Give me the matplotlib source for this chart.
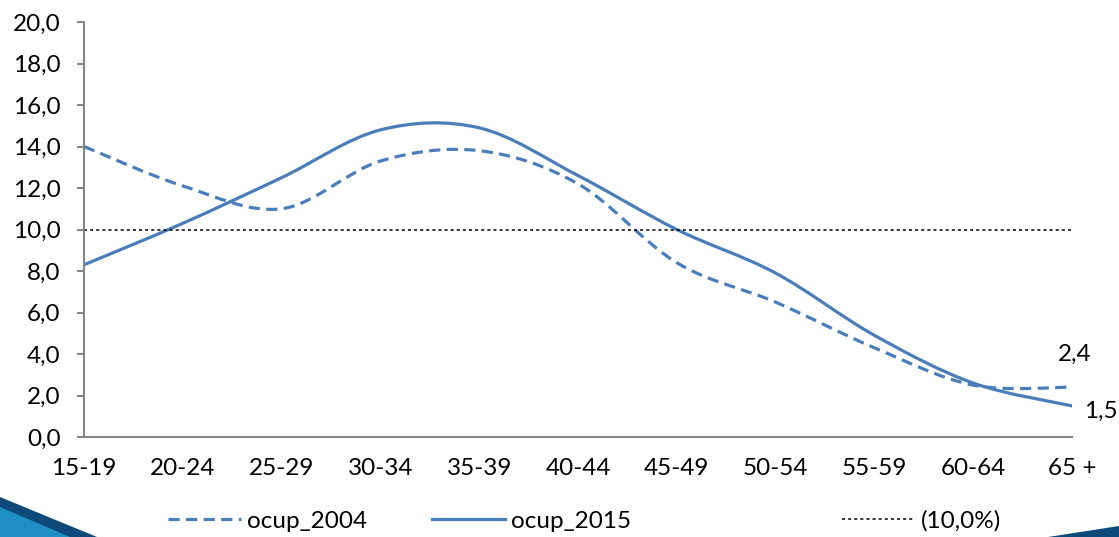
import matplotlib
matplotlib.use("Agg")
import matplotlib.pyplot as plt
from matplotlib.path import Path
from matplotlib.patches import PathPatch, Polygon
from matplotlib.lines import Line2D
from matplotlib.ticker import FuncFormatter

plt.rcParams['font.family'] = ['Lato', 'DejaVu Sans']

# age groups and shares (%)
categories = ["15-19", "20-24", "25-29", "30-34", "35-39", "40-44",
              "45-49", "50-54", "55-59", "60-64", "65 +"]
ocup_2004 = [14.0, 12.1, 11.0, 13.3, 13.8, 12.2, 8.4, 6.5, 4.3, 2.5, 2.4]
ocup_2015 = [8.3, 10.3, 12.5, 14.8, 14.9, 12.6, 10.0, 7.9, 4.9, 2.6, 1.5]
threshold = 10.0

blue = "#4a7ebb"
fs = 17.5


def smooth_path(xs, ys):
    # Excel-like smoothed line: bezier segments with catmull-rom control points
    pts = list(zip(xs, ys))
    n = len(pts)
    verts = [pts[0]]
    codes = [Path.MOVETO]
    for i in range(n - 1):
        p0 = pts[i - 1] if i > 0 else pts[i]
        p1 = pts[i]
        p2 = pts[i + 1]
        p3 = pts[i + 2] if i + 2 < n else pts[i + 1]
        c1 = (p1[0] + (p2[0] - p0[0]) / 6, p1[1] + (p2[1] - p0[1]) / 6)
        c2 = (p2[0] - (p3[0] - p1[0]) / 6, p2[1] - (p3[1] - p1[1]) / 6)
        verts += [c1, c2, p2]
        codes += [Path.CURVE4] * 3
    return Path(verts, codes)


fig = plt.figure(figsize=(11.19, 5.37), dpi=100)
ax = fig.add_axes([0.0751, 0.1862, 0.8829, 0.7728])

x = list(range(len(categories)))

ax.add_patch(PathPatch(smooth_path(x, ocup_2004), fill=False, edgecolor=blue,
                       lw=2.3, linestyle=(0, (3.5, 2)), capstyle="butt"))
ax.add_patch(PathPatch(smooth_path(x, ocup_2015), fill=False, edgecolor=blue,
                       lw=2.3, capstyle="round"))
ax.plot([x[0], x[-1]], [threshold, threshold], color="black", lw=1.1,
        linestyle=(0, (2, 2)))

ax.annotate("2,4", (x[-1], ocup_2004[-1]), xytext=(2, 24), textcoords="offset points",
            ha="center", va="center", fontsize=fs, annotation_clip=False)
ax.annotate("1,5", (x[-1], ocup_2015[-1]), xytext=(9, -4), textcoords="offset points",
            ha="left", va="center", fontsize=fs, annotation_clip=False)

ax.set_xlim(0, len(categories) - 1)
ax.set_ylim(0, 20)
ax.set_yticks(range(0, 21, 2))
ax.yaxis.set_major_formatter(FuncFormatter(lambda v, p: f"{v:.1f}".replace(".", ",")))
ax.set_xticks(x)
ax.set_xticklabels(categories)

for s in ["top", "right"]:
    ax.spines[s].set_visible(False)
for s in ["left", "bottom"]:
    ax.spines[s].set_color("#868686")
    ax.spines[s].set_linewidth(1.5)
ax.tick_params(axis="y", length=5, width=1.5, color="#868686", pad=12, labelsize=fs)
ax.tick_params(axis="x", length=0, pad=15, labelsize=fs)

# legend entries
h1 = Line2D([], [], color=blue, lw=2.3, linestyle=(0, (3.5, 2)))
h2 = Line2D([], [], color=blue, lw=2.3)
h3 = Line2D([], [], color="black", lw=1.1, linestyle=(0, (2, 2)))
for h, lab, xpos in [(h1, "ocup_2004", 168 / 1119), (h2, "ocup_2015", 432 / 1119),
                     (h3, "(10,0%)", 842 / 1119)]:
    fig.legend([h], [lab], loc="center left", bbox_to_anchor=(xpos, 1 - 521 / 537),
               frameon=False, fontsize=fs, handlelength=3.0, handletextpad=0.25,
               borderpad=0, borderaxespad=0)

# decorative corner shapes
fig.patches.append(Polygon([(0, 1 - 497 / 537), (97 / 1119, 0), (0, 0)],
                           closed=True, transform=fig.transFigure,
                           facecolor="#0d4a7a", edgecolor="none"))
fig.patches.append(Polygon([(0, 1 - 507 / 537), (70 / 1119, 0), (0, 0)],
                           closed=True, transform=fig.transFigure,
                           facecolor="#1e8fc3", edgecolor="none"))
fig.patches.append(Polygon([(1048 / 1119, 0), (1, 1 - 526 / 537), (1, 0)],
                           closed=True, transform=fig.transFigure,
                           facecolor="#0d4a7a", edgecolor="none"))

fig.savefig("out.png", dpi=100)
